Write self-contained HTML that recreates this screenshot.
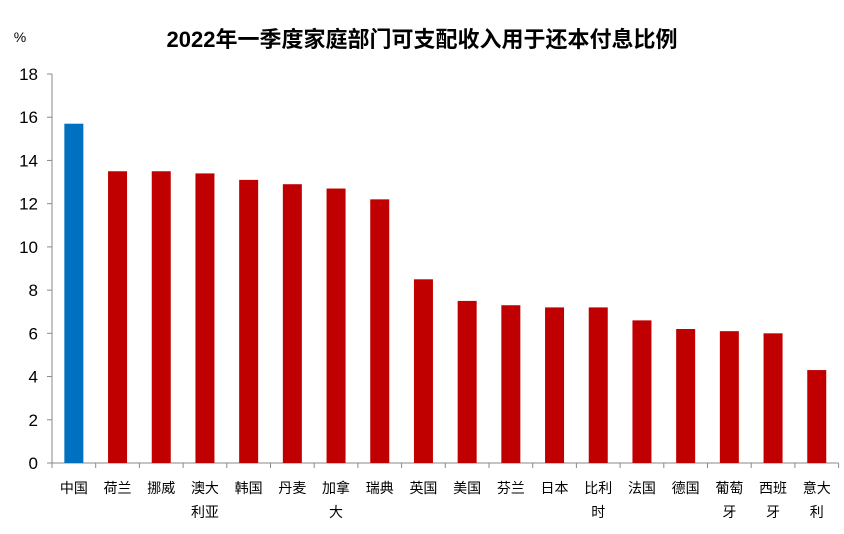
<!DOCTYPE html>
<html><head><meta charset="utf-8"><style>
body{margin:0;background:#fff;}
svg text{font-family:"Liberation Sans","Noto Sans CJK SC",sans-serif;}
</style></head><body>
<svg id="chart" width="844" height="529" xmlns="http://www.w3.org/2000/svg">
<text x="422" y="47" text-anchor="middle" font-size="22" font-weight="bold" fill="#000">2022年一季度家庭部门可支配收入用于还本付息比例</text>
<text x="20" y="42" text-anchor="middle" font-size="14" fill="#000">%</text>
<g id="axes"></g><g id="bars"></g>
</svg>
<script>
const categories=[["中国"],["荷兰"],["挪威"],["澳大","利亚"],["韩国"],["丹麦"],["加拿","大"],["瑞典"],["英国"],["美国"],["芬兰"],["日本"],["比利","时"],["法国"],["德国"],["葡萄","牙"],["西班","牙"],["意大","利"]];
const values=[15.7,13.5,13.5,13.4,13.1,12.9,12.7,12.2,8.5,7.5,7.3,7.2,7.2,6.6,6.2,6.1,6.0,4.3];
const yTicks=[0,2,4,6,8,10,12,14,16,18];
const NS="http://www.w3.org/2000/svg";
const x0=52,x1=838.6,y0=463,yTop=74,yMax=18;
const slot=(x1-x0)/categories.length;
const y=v=>y0-(v/yMax)*(y0-yTop);
const xc=i=>x0+slot*(i+0.5);
function mk(t,a,p){const e=document.createElementNS(NS,t);for(const k in a)e.setAttribute(k,a[k]);p.appendChild(e);return e;}
const ax=document.getElementById('axes'),bg=document.getElementById('bars');
const yl=mk('line',{x1:x0,y1:yTop,x2:x0,y2:y0,stroke:'#888','stroke-width':1},ax);


const xl=mk('line',{x1:x0,y1:y0,x2:x1,y2:y0,stroke:'#888','stroke-width':1},ax);


yTicks.forEach(t=>{
  const tk=mk('line',{x1:x0-5,y1:y(t),x2:x0,y2:y(t),stroke:'#888'},ax);
  
  
  const lb=mk('text',{x:38,y:y(t)+6,'text-anchor':'end','font-size':17,fill:'#000'},ax);
  lb.textContent=t;
  
  
});
for(let i=0;i<=categories.length;i++){
  const tk=mk('line',{x1:x0+slot*i,y1:y0,x2:x0+slot*i,y2:y0+5,stroke:'#888'},ax);
  
  
}
values.forEach((v,i)=>{
  const w=19;
  const r=mk('rect',{x:xc(i)-w/2,y:y(v),width:w,height:y0-y(v),fill:i===0?'#0070c0':'#c00000'},bg);
  
  
  categories[i].forEach((ln,j)=>{
    const t=mk('text',{x:xc(i),y:493+j*24,'text-anchor':'middle','font-size':14,fill:'#000'},bg);
    t.textContent=ln;
    
    
  });
});
</script>
</body></html>
